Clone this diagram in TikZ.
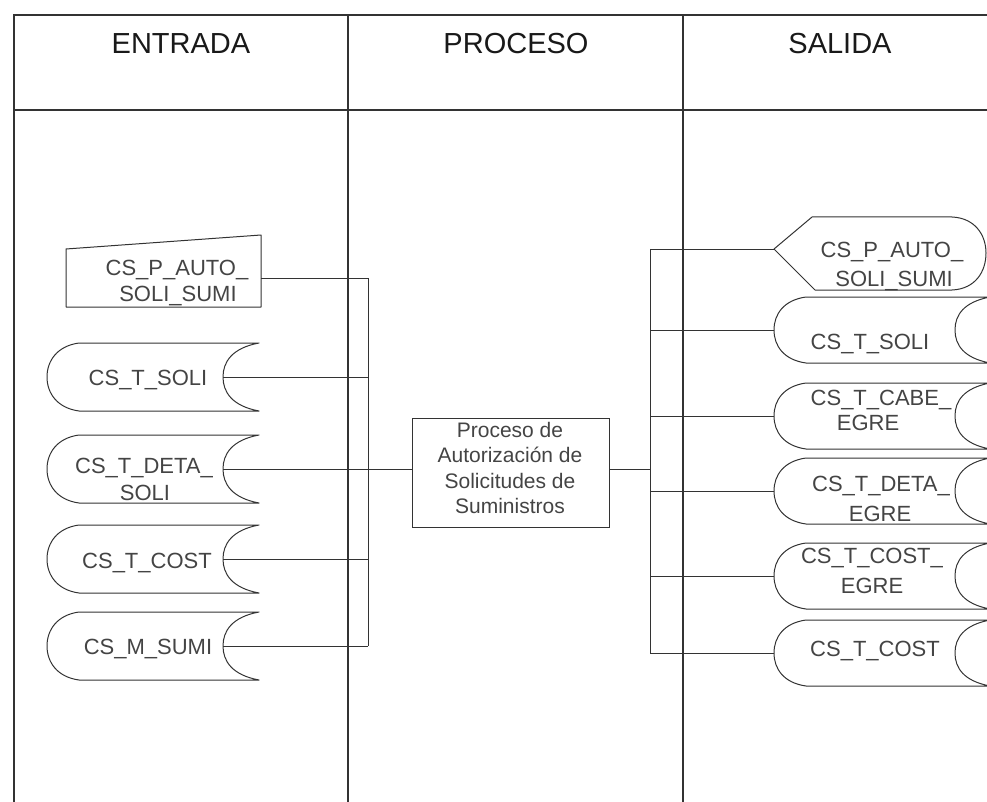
\documentclass[tikz,border=0pt]{standalone}
\usepackage{fontspec}
\setmainfont{Liberation Sans}
\definecolor{ln}{HTML}{333333}
\definecolor{tx}{HTML}{444444}
\newcommand{\sdbox}[5]{% L R cy halfh depth
  \draw[shp] ({#1+32},{#3-#4}) -- (#2,{#3-#4})
    .. controls ({#2-0.75*#5},{#3-#4+5}) and ({#2-#5},{#3-15}) .. ({#2-#5},#3)
    .. controls ({#2-#5},{#3+15}) and ({#2-0.75*#5},{#3+#4-5}) .. (#2,{#3+#4})
    -- ({#1+32},{#3+#4})
    .. controls ({#1+10},{#3+#4-3}) and (#1,{#3+16}) .. (#1,#3)
    .. controls (#1,{#3-16}) and ({#1+10},{#3-#4+3}) .. ({#1+32},{#3-#4}) -- cycle;}
\begin{document}
\begin{tikzpicture}[x=1pt,y=-1pt,
  tbl/.style={draw=ln,line width=1.3pt},
  shp/.style={draw=ln,line width=1pt,line join=round},
  wire/.style={draw=ln,line width=0.9pt},
  hdr/.style={font=\fontsize{29}{31}\selectfont,text=black!90,anchor=base,inner sep=0pt},
  lbl/.style={font=\fontsize{22}{24}\selectfont,text=tx,anchor=base,inner sep=0pt}]
\useasboundingbox (0,0) rectangle (987,802);
\clip (0,0) rectangle (987,802);
% table
\draw[tbl] (14,802) -- (14,15) -- (1000,15);
\draw[tbl] (14,110) -- (1000,110);
\draw[tbl] (348,15) -- (348,802);
\draw[tbl] (683,15) -- (683,802);
\node[hdr] (hE) at (181,54) {ENTRADA};
\node[hdr] (hP) at (516,54) {PROCESO};
\node[hdr] (hS) at (840,54) {SALIDA};
% left shapes
\draw[shp] (66,249) -- (261,235) -- (261,307) -- (66,307) -- cycle;
\sdbox{47}{259}{377}{34}{36}
\sdbox{47}{259}{469}{34}{36}
\sdbox{47}{259}{559}{34}{36}
\sdbox{47}{259}{646}{34}{36}
\node[lbl] (lPA1) at (177,275) {CS\_P\_AUTO\_};
\node[lbl] (lPA2) at (178,301) {SOLI\_SUMI};
\node[lbl] (lTS) at (148,385) {CS\_T\_SOLI};
\node[lbl] (lDS1) at (144,473) {CS\_T\_DETA\_};
\node[lbl] (lDS2) at (145,500) {SOLI};
\node[lbl] (lTC) at (147,568) {CS\_T\_COST};
\node[lbl] (lMS) at (148,654) {CS\_M\_SUMI};
% right shapes
\draw[shp] (774,249) -- (812,217) -- (952,217) .. controls (975,218) and (986,235) .. (986,253) .. controls (986,272) and (975,289) .. (952,290) -- (815,290) -- cycle;
\sdbox{774}{990}{330}{33}{35}
\sdbox{774}{990}{416}{33}{35}
\sdbox{774}{990}{491}{33}{35}
\sdbox{774}{990}{576}{33}{35}
\sdbox{774}{990}{653}{33}{35}
\node[lbl] (rPA1) at (892,258) {CS\_P\_AUTO\_};
\node[lbl] (rPA2) at (894,286) {SOLI\_SUMI};
\node[lbl] (rTS) at (870,349) {CS\_T\_SOLI};
\node[lbl] (rCE1) at (881,405) {CS\_T\_CABE\_};
\node[lbl] (rCE2) at (868,430) {EGRE};
\node[lbl] (rDE1) at (881,491) {CS\_T\_DETA\_};
\node[lbl] (rDE2) at (880,521) {EGRE};
\node[lbl] (rCO1) at (872,563) {CS\_T\_COST\_};
\node[lbl] (rCO2) at (872,593) {EGRE};
\node[lbl] (rTC) at (875,656) {CS\_T\_COST};
% process
\node[draw=ln,line width=1pt,minimum width=197pt,minimum height=109pt,inner sep=0pt] (proc) at (510.5,472.5) {};
\node[font=\fontsize{21}{25.5}\selectfont,text=tx,align=center,inner sep=0pt] (proctxt) at (510,468) {Proceso de\\Autorización de\\Solicitudes de\\Suministros};
% ports
\coordinate (iPA) at (261,278);
\coordinate (iTS) at (223,377);
\coordinate (iDS) at (223,469);
\coordinate (iTC) at (223,559);
\coordinate (iMS) at (223,646);
\coordinate (bPA) at (368,278);
\coordinate (bTS) at (368,377);
\coordinate (bTC) at (368,559);
\coordinate (bMS) at (368,646);
\coordinate (oPA) at (774,249);
\coordinate (oTS) at (774,330);
\coordinate (oCE) at (774,416);
\coordinate (oDE) at (774,491);
\coordinate (oCO) at (774,576);
\coordinate (oTC) at (774,653);
\coordinate (rB) at (650,469);
\coordinate (rBt) at (650,249);
\coordinate (rBb) at (650,653);
% wires
\draw[wire] (iPA) -- (bPA);
\draw[wire] (iTS) -- (bTS);
\draw[wire] (iTC) -- (bTC);
\draw[wire] (iMS) -- (bMS);
\draw[wire] (bPA) -- (bMS);
\draw[wire] (iDS) -- (iDS -| proc.west);
\draw[wire] (iDS -| proc.east) -- (rB);
\draw[wire] (rBt) -- (rBb);
\draw[wire] (rBt) -- (oPA);
\draw[wire] (oTS -| rB) -- (oTS);
\draw[wire] (oCE -| rB) -- (oCE);
\draw[wire] (oDE -| rB) -- (oDE);
\draw[wire] (oCO -| rB) -- (oCO);
\draw[wire] (rBb) -- (oTC);
\end{tikzpicture}
\end{document}
